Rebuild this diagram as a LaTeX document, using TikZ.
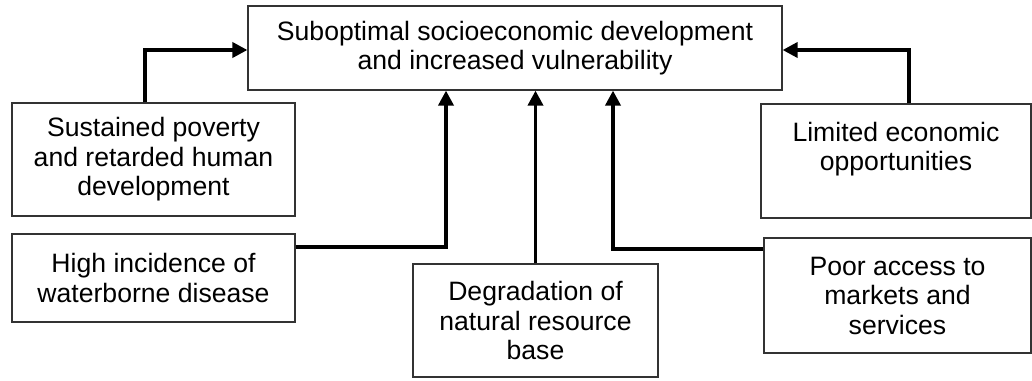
\documentclass[tikz,border=0pt]{standalone}
\usepackage{fontspec}
\setmainfont{Liberation Sans}
\usetikzlibrary{arrows.meta}
\begin{document}
\begin{tikzpicture}[x=1pt,y=-1pt,
  box/.style={draw=black!80,line width=1.2pt,rectangle,inner sep=0pt,align=center,
    font=\fontsize{26.6}{29.5}\selectfont},
  arr/.style={line width=3.6pt,-{Triangle[length=15pt,width=15pt]}},
  link/.style={line width=3.6pt}]
\useasboundingbox (0,0) rectangle (1032,380);
\node[box,minimum width=534pt,minimum height=84pt] (top) at (515,48) {Suboptimal socioeconomic development\\and increased vulnerability};
\node[box,minimum width=283pt,minimum height=113pt] (sus) at (153.5,159.5) {Sustained poverty\\and retarded human\\development};
\node[box,minimum width=283pt,minimum height=88pt] (high) at (153.5,278) {High incidence of\\waterborne disease};
\node[box,minimum width=245pt,minimum height=113pt] (deg) at (535.5,320.5) {Degradation of\\natural resource\\base};
\node[box,minimum width=270pt,minimum height=114pt] (lim) at (896,161) {Limited economic\\opportunities\\\mbox{}};
\node[box,minimum width=267pt,minimum height=115pt] (poor) at (897.5,295.5) {Poor access to\\markets and\\services};
\draw[arr] ([xshift=-8.5pt]sus.north) |- ([yshift=-2pt]top.west);
\draw[arr] ([xshift=13pt]lim.north) |- ([yshift=-2pt]top.east);
\draw[arr] ([yshift=31pt]high.east) -| ([xshift=-69pt]top.south);
\draw[arr] (deg.north) -- (deg.north |- top.south);
\draw[arr] ([yshift=46.5pt]poor.west) -| ([xshift=98pt]top.south);
\end{tikzpicture}
\end{document}
